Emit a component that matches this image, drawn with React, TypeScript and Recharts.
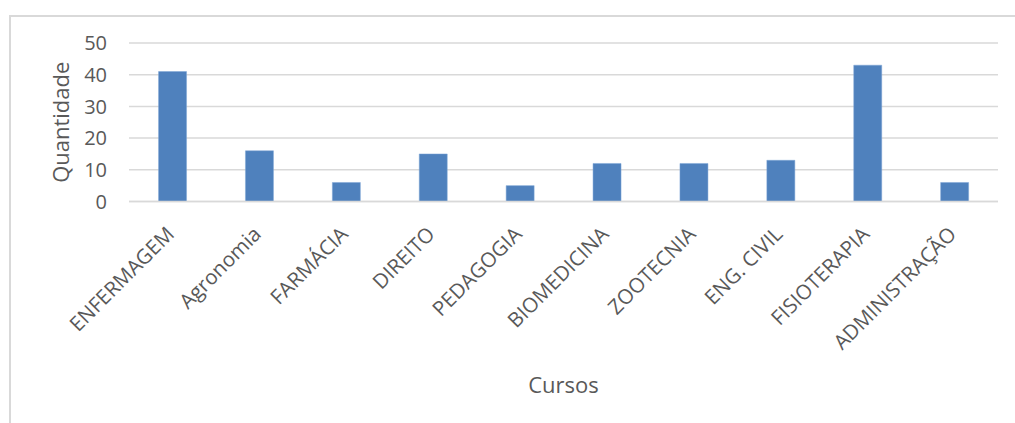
import React from "react";
import { BarChart, Bar, XAxis, YAxis, CartesianGrid, Label } from "recharts";

const categories = ["ENFERMAGEM", "Agronomia", "FARMÁCIA", "DIREITO", "PEDAGOGIA", "BIOMEDICINA", "ZOOTECNIA", "ENG. CIVIL", "FISIOTERAPIA", "ADMINISTRAÇÃO"];
const values = [41, 16, 6, 15, 5, 12, 12, 13, 43, 6];
const yTicks = [0, 10, 20, 30, 40, 50];

const data = categories.map((c, i) => ({ name: c, value: values[i] }));

const FONT = "'Open Sans', sans-serif";
const GRAY = "#595959";

const XTick = (props: any) => {
  const { x, y, payload } = props;
  return (
    <g transform={`translate(${x + 3},${y + 26})`}>
      <text
        transform="rotate(-45)"
        textAnchor="end"
        x={0}
        y={0}
        fill={GRAY}
        fontSize={20.5}
        fontFamily={FONT}
      >
        {payload.value}
      </text>
    </g>
  );
};

const YTitle = (props: any) => {
  const vb = props.viewBox || {};
  const cy = (vb.y ?? 43) + (vb.height ?? 158) / 2;
  const cx = 60;
  return (
    <text
      x={cx}
      y={cy}
      transform={`rotate(-90 ${cx} ${cy})`}
      textAnchor="middle"
      dominantBaseline="central"
      fill={GRAY}
      fontSize={22}
      fontFamily={FONT}
    >
      Quantidade
    </text>
  );
};

export default function App() {
  return (
    <div style={{ position: "absolute", left: 0, top: 0, width: 1015, height: 423, background: "#fff", overflow: "hidden" }}>
      <div style={{ position: "absolute", left: 9, top: 15, width: 1100, height: 500, border: "2px solid #D9D9D9", boxSizing: "border-box" }} />
      <div style={{ position: "absolute", left: 0, top: 0 }}>
        <BarChart
          width={1015}
          height={423}
          data={data}
          margin={{ top: 43, right: 17, bottom: 0, left: 0 }}
          barCategoryGap="34%"
        >
          <CartesianGrid vertical={false} stroke="#D9D9D9" strokeWidth={1.5} />
          <XAxis
            dataKey="name"
            interval={0}
            height={221.5}
            tickLine={false}
            axisLine={{ stroke: "#D9D9D9", strokeWidth: 1.5 }}
            tick={<XTick />}
          >
            <Label value="Cursos" position="insideBottom" offset={30} fill={GRAY} fontSize={22} fontFamily={FONT} />
          </XAxis>
          <YAxis
            width={129}
            domain={[0, 50]}
            ticks={yTicks}
            tickLine={false}
            axisLine={false}
            tickSize={0}
            tickMargin={22}
            tick={{ fill: GRAY, fontSize: 20, fontFamily: FONT }}
          >
            <Label content={<YTitle />} />
          </YAxis>
          <Bar dataKey="value" fill="#4F81BD" stroke="#7FA6D6" strokeWidth={0.5} isAnimationActive={false} />
        </BarChart>
      </div>
    </div>
  );
}
